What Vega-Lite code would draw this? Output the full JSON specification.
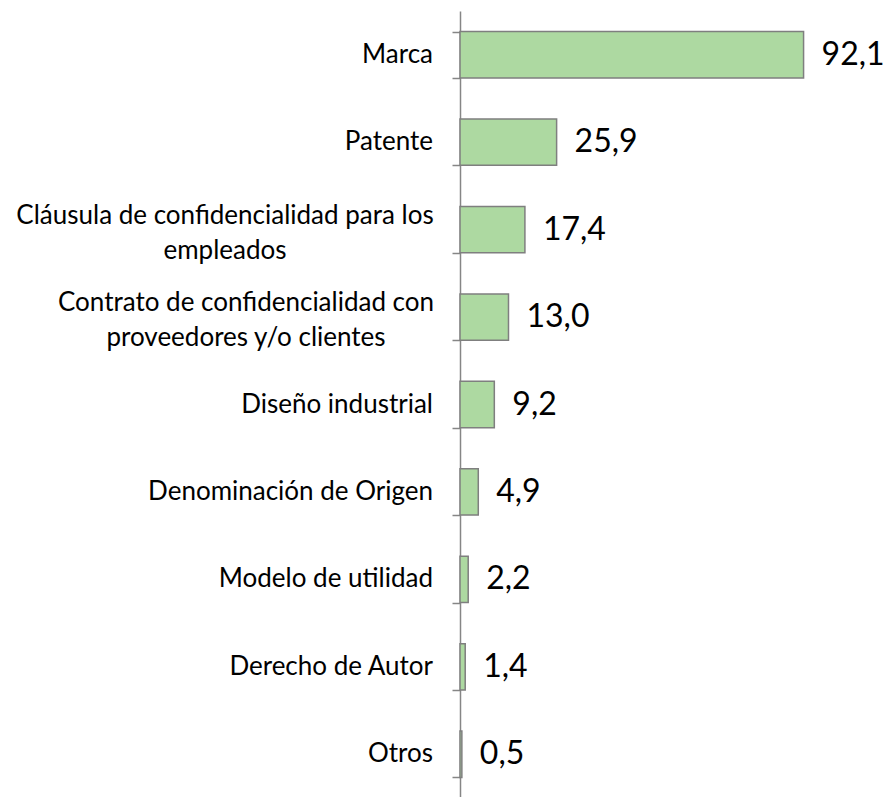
{
  "$schema": "https://vega.github.io/schema/vega-lite/v6.json",
  "autosize": {"type": "none"},
  "padding": {"left": 460, "top": 11, "right": 0, "bottom": 0},
  "width": 429,
  "height": 787,
  "background": "white",
  "config": {
    "view": {"stroke": null},
    "locale": {"number": {"decimal": ",", "thousands": ".", "grouping": [3], "currency": ["", " €"]}},
    "font": "Lato"
  },
  "data": {
    "values": [
      {"categoria": "Marca", "valor": 92.1},
      {"categoria": "Patente", "valor": 25.9},
      {"categoria": "Cláusula de confidencialidad para los|empleados", "valor": 17.4},
      {"categoria": "Contrato de confidencialidad con|proveedores y/o clientes", "valor": 13.0},
      {"categoria": "Diseño industrial", "valor": 9.2},
      {"categoria": "Denominación de Origen", "valor": 4.9},
      {"categoria": "Modelo de utilidad", "valor": 2.2},
      {"categoria": "Derecho de Autor", "valor": 1.4},
      {"categoria": "Otros", "valor": 0.5}
    ]
  },
  "encoding": {
    "y": {
      "field": "categoria",
      "type": "nominal",
      "sort": null,
      "scale": {"paddingInner": 0.47, "paddingOuter": 0.235},
      "axis": {
        "title": null,
        "labels": false,
        "tickBand": "extent",
        "domainColor": "#868686",
        "domainWidth": 1.5,
        "tickColor": "#868686",
        "tickWidth": 1.5,
        "tickSize": 8
      }
    },
    "x": {
      "field": "valor",
      "type": "quantitative",
      "scale": {"domain": [0, 115], "nice": false},
      "axis": null
    }
  },
  "layer": [
    {
      "mark": {"type": "bar", "fill": "#ADD9A1", "stroke": "#7F7F7F", "strokeWidth": 1.5}
    },
    {
      "mark": {"type": "text", "align": "left", "baseline": "middle", "dx": 18, "fontSize": 32, "font": "Lato", "color": "#000000"},
      "encoding": {
        "text": {"field": "valor", "type": "quantitative", "format": ".1f"}
      }
    },
    {
      "transform": [{"filter": "indexof(datum.categoria, '|') < 0"}],
      "mark": {"type": "text", "align": "right", "baseline": "middle", "dx": -27, "fontSize": 26, "font": "Lato", "color": "#000000"},
      "encoding": {
        "x": {"datum": 0, "type": "quantitative"},
        "text": {"field": "categoria", "type": "nominal"}
      }
    },
    {
      "transform": [{"filter": "indexof(datum.categoria, 'Cláusula') == 0"}],
      "mark": {"type": "text", "align": "center", "baseline": "alphabetic", "dx": -235, "dy": -6, "lineBreak": "|", "lineHeight": 35, "fontSize": 26, "font": "Lato", "color": "#000000"},
      "encoding": {
        "x": {"datum": 0, "type": "quantitative"},
        "text": {"field": "categoria", "type": "nominal"}
      }
    },
    {
      "transform": [{"filter": "indexof(datum.categoria, 'Contrato') == 0"}],
      "mark": {"type": "text", "align": "center", "baseline": "alphabetic", "dx": -214, "dy": -6, "lineBreak": "|", "lineHeight": 35, "fontSize": 26, "font": "Lato", "color": "#000000"},
      "encoding": {
        "x": {"datum": 0, "type": "quantitative"},
        "text": {"field": "categoria", "type": "nominal"}
      }
    }
  ]
}
